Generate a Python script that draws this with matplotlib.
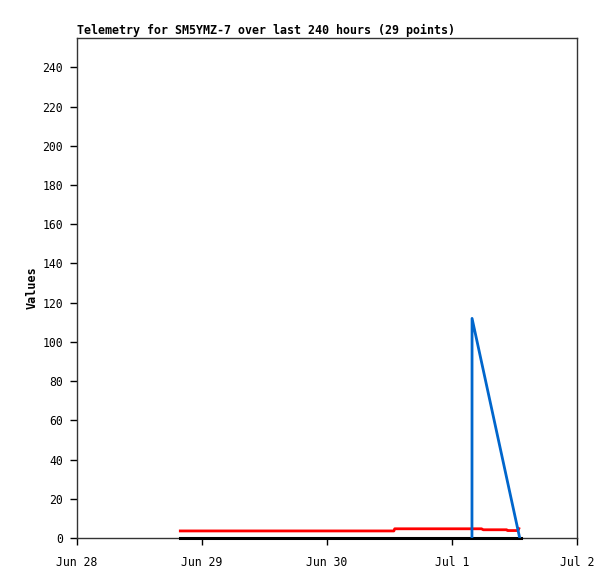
import matplotlib
matplotlib.use('Agg')
import matplotlib.pyplot as plt
import pandas as pd

# telemetry series
red_times = ['2023-06-28 19:50', '2023-06-30 12:50', '2023-06-30 13:00', '2023-07-01 05:40',
             '2023-07-01 06:00', '2023-07-01 10:30', '2023-07-01 10:40', '2023-07-01 12:40',
             '2023-07-01 12:50']
red_values = [3.6, 3.6, 4.7, 4.7, 4.2, 4.2, 3.8, 3.8, 4.8]

blue_times = ['2023-07-01 03:50', '2023-07-01 03:51', '2023-07-01 13:00']
blue_values = [0, 112, 0]

black_times = ['2023-06-28 19:50', '2023-07-01 13:10']
black_values = [0, 0]

xticks = ['2023-06-28', '2023-06-29', '2023-06-30', '2023-07-01', '2023-07-02']
xtick_labels = ['Jun 28', 'Jun 29', 'Jun 30', 'Jul 1', 'Jul 2']
yticks = list(range(0, 241, 20))

plt.rcParams['font.family'] = ['DejaVu Sans Mono']

fig = plt.figure(figsize=(6.15, 5.79), dpi=100)
ax = fig.add_axes([77 / 615, 41 / 579, 500 / 615, 500 / 579])

ax.plot(pd.to_datetime(black_times), black_values, color='black', lw=2.2, clip_on=False, zorder=3)
ax.plot(pd.to_datetime(red_times), red_values, color='#ff0000', lw=2, zorder=4)
ax.plot(pd.to_datetime(blue_times), blue_values, color='#0066cc', lw=2, zorder=5)

ax.set_xlim(pd.Timestamp('2023-06-28'), pd.Timestamp('2023-07-02'))
ax.set_ylim(0, 255)
ax.set_xticks(pd.to_datetime(xticks))
ax.set_xticklabels(xtick_labels)
ax.set_yticks(yticks)
ax.tick_params(axis='both', labelsize=8.3, length=5, width=1, direction='out', pad=8)
ax.tick_params(axis='y', pad=5)
for s in ax.spines.values():
    s.set_linewidth(1)
    s.set_color('#333333')

ax.set_ylabel('Values', fontsize=8.5, fontweight='bold', labelpad=3)
ax.set_title('Telemetry for SM5YMZ-7 over last 240 hours (29 points)',
             fontsize=8.4, fontweight='bold', loc='left', pad=3)

fig.savefig('out.png', dpi=100)
